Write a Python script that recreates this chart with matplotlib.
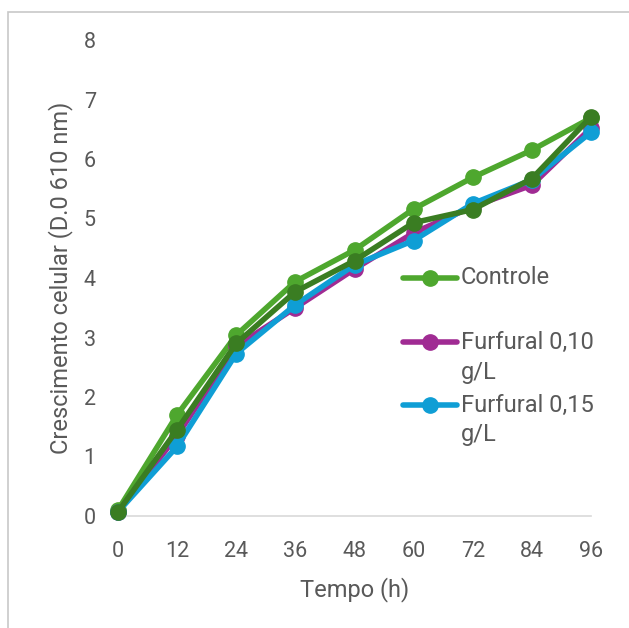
import matplotlib
matplotlib.use("Agg")
import matplotlib.pyplot as plt
from matplotlib.lines import Line2D
from matplotlib.patches import Rectangle

plt.rcParams['font.family'] = ['Roboto', 'DejaVu Sans']

tempo = [0, 12, 24, 36, 48, 60, 72, 84, 96]
controle = [0.10, 1.70, 3.04, 3.94, 4.47, 5.16, 5.69, 6.15, 6.69]
furfural_010 = [0.07, 1.35, 2.85, 3.50, 4.15, 4.76, 5.20, 5.56, 6.52]
furfural_015 = [0.07, 1.17, 2.73, 3.55, 4.22, 4.63, 5.25, 5.65, 6.45]
furfural_020 = [0.07, 1.45, 2.90, 3.77, 4.29, 4.93, 5.15, 5.67, 6.71]

cor_texto = '#595959'
series = [
    (controle, '#4ea72e', 'Controle'),
    (furfural_010, '#a02b93', 'Furfural 0,10\ng/L'),
    (furfural_015, '#0f9ed5', 'Furfural 0,15\ng/L'),
    (furfural_020, '#3a7d22', None),
]

W, H = 629, 628
fig = plt.figure(figsize=(W / 100, H / 100), dpi=100)
ax = fig.add_axes([118 / W, 1 - 516 / H, (591 - 118) / W, (516 - 40) / H])

for valores, cor, nome in series:
    ax.plot(tempo, valores, color=cor, lw=4, marker='o', ms=11,
            solid_capstyle='round', clip_on=False, zorder=3)

ax.set_xlim(0, 96)
ax.set_ylim(0, 8)
ax.set_xticks(tempo)
ax.set_yticks(range(0, 9))
for s in ['top', 'right', 'left']:
    ax.spines[s].set_visible(False)
ax.spines['bottom'].set_color('#d9d9d9')
ax.spines['bottom'].set_linewidth(1.2)
ax.spines['bottom'].set_zorder(1)
ax.tick_params(axis='both', length=0, labelsize=15.5, colors=cor_texto)
ax.tick_params(axis='y', pad=16)
ax.tick_params(axis='x', pad=18)
ax.set_xlabel('Tempo (h)', fontsize=17, color=cor_texto, labelpad=11)
ax.set_ylabel('Crescimento celular (D.0 610 nm)', fontsize=17,
              color=cor_texto, labelpad=8)

# legenda montada à mão: chave alinhada com a primeira linha do texto
leg_y = [278, 342, 405]
for (valores, cor, nome), y in zip(series[:3], leg_y):
    yf = 1 - y / H
    fig.add_artist(Line2D([403 / W, 457 / W], [yf, yf], color=cor, lw=4,
                          solid_capstyle='round'))
    fig.add_artist(Line2D([430 / W], [yf], color=cor, marker='o', ms=11))
    for i, linha in enumerate(nome.split('\n')):
        fig.text(461 / W, yf - i * 30 / H, linha, fontsize=17,
                 color=cor_texto, va='center', ha='left')

# moldura da área do gráfico
fig.add_artist(Rectangle((8 / W, -0.1), 1.2, 1.1 - 12 / H,
                         transform=fig.transFigure, fill=False,
                         edgecolor='#c8c8c8', lw=1.2))

fig.savefig('out.png', dpi=100)
